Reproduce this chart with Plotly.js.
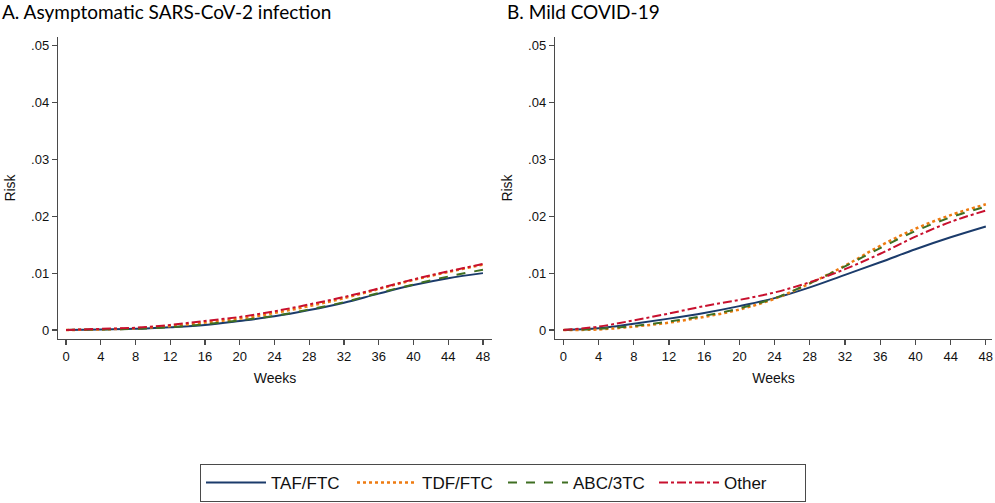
<!DOCTYPE html>
<html>
<head>
<meta charset="utf-8">
<script src="https://cdn.plot.ly/plotly-3.0.1.min.js"></script>
<style>html,body{margin:0;padding:0;background:#fff}#chart{width:995px;height:503px}</style>
</head>
<body>
<div id="chart"></div>
<script>
const weeks = [0, 4, 8, 12, 16, 20, 24, 28, 32, 36, 40, 44, 48];
const seriesNames = ["TAF/FTC", "TDF/FTC", "ABC/3TC", "Other"];

// Panel A: Asymptomatic SARS-CoV-2 infection
const asymTAF   = [0, 0.0001, 0.0002, 0.0005, 0.0009, 0.0016, 0.0024, 0.0035, 0.0048, 0.0064, 0.0079, 0.0091, 0.0100];
const asymTDF   = [0, 0.0001, 0.0003, 0.0007, 0.0013, 0.0020, 0.0030, 0.0042, 0.0056, 0.0072, 0.0088, 0.0102, 0.0115];
const asymABC   = [0, 0.0001, 0.0002, 0.0005, 0.0010, 0.0017, 0.0025, 0.0036, 0.0049, 0.0065, 0.0080, 0.0094, 0.0106];
const asymOther = [0, 0.0002, 0.0004, 0.0009, 0.0016, 0.0023, 0.0033, 0.0045, 0.0058, 0.0073, 0.0089, 0.0103, 0.0116];

// Panel B: Mild COVID-19
const mildTAF   = [0, 0.0003, 0.0011, 0.0020, 0.0030, 0.0042, 0.0056, 0.0075, 0.0097, 0.0119, 0.0142, 0.0163, 0.0182];
const mildTDF   = [0, 0.0001, 0.0006, 0.0013, 0.0023, 0.0036, 0.0055, 0.0082, 0.0113, 0.0148, 0.0178, 0.0202, 0.0221];
const mildABC   = [0, 0.0002, 0.0007, 0.0015, 0.0025, 0.0038, 0.0056, 0.0082, 0.0112, 0.0144, 0.0174, 0.0198, 0.0217];
const mildOther = [0, 0.0006, 0.0017, 0.0029, 0.0042, 0.0053, 0.0066, 0.0084, 0.0107, 0.0134, 0.0164, 0.0190, 0.0210];

const yTickVals = [0, 0.01, 0.02, 0.03, 0.04, 0.05];
const yTickText = ["0", ".01", ".02", ".03", ".04", ".05"];
const xTickVals = [0, 4, 8, 12, 16, 20, 24, 28, 32, 36, 40, 44, 48];

const styles = [
  {color: "#1b3b6b", dash: "solid", width: 2},
  {color: "#ee7b10", dash: "dot", width: 2.5},
  {color: "#3f6f22", dash: "dash", width: 2},
  {color: "#c8102e", dash: "dashdot", width: 2}
];

const panelA = [asymTAF, asymTDF, asymABC, asymOther];
const panelB = [mildTAF, mildTDF, mildABC, mildOther];

const traces = [];
panelA.forEach((ys, i) => traces.push({
  x: weeks, y: ys, type: "scatter", mode: "lines", name: seriesNames[i],
  xaxis: "x", yaxis: "y", legendgroup: seriesNames[i], showlegend: true,
  line: {color: styles[i].color, dash: styles[i].dash, width: styles[i].width, shape: "spline"}
}));
panelB.forEach((ys, i) => traces.push({
  x: weeks, y: ys, type: "scatter", mode: "lines", name: seriesNames[i],
  xaxis: "x2", yaxis: "y2", legendgroup: seriesNames[i], showlegend: false,
  line: {color: styles[i].color, dash: styles[i].dash, width: styles[i].width, shape: "spline"}
}));

const tickFont = {family: "Liberation Sans, Arial, sans-serif", size: 13, color: "#111"};
const axisCommon = {
  showline: true, linecolor: "#4a4a4a", linewidth: 1.2,
  ticks: "outside", ticklen: 5, tickcolor: "#4a4a4a", tickwidth: 1.2,
  showgrid: false, zeroline: false, tickfont: tickFont, fixedrange: true
};
const yDomain = [(503 - 339) / 503, (503 - 37) / 503];

const layout = {
  width: 995, height: 503,
  margin: {l: 0, r: 0, t: 0, b: 0},
  paper_bgcolor: "#fff", plot_bgcolor: "#fff",
  font: {family: "Liberation Sans, Arial, sans-serif", color: "#111"},
  xaxis: Object.assign({}, axisCommon, {
    domain: [58 / 995, 492 / 995], range: [-0.92, 49.04], anchor: "y",
    tickvals: xTickVals, ticktext: xTickVals.map(String),
    title: {text: "Weeks", font: {size: 14, family: "Liberation Sans, Arial, sans-serif"}, standoff: 10}
  }),
  yaxis: Object.assign({}, axisCommon, {
    domain: yDomain, range: [-0.00158, 0.0515], anchor: "x",
    tickvals: yTickVals, ticktext: yTickText,
    title: {text: "Risk", font: {size: 14, family: "Liberation Sans, Arial, sans-serif"}, standoff: 12}
  }),
  xaxis2: Object.assign({}, axisCommon, {
    domain: [555 / 995, 992 / 995], range: [-0.95, 48.7], anchor: "y2",
    tickvals: xTickVals, ticktext: xTickVals.map(String),
    title: {text: "Weeks", font: {size: 14, family: "Liberation Sans, Arial, sans-serif"}, standoff: 10}
  }),
  yaxis2: Object.assign({}, axisCommon, {
    domain: yDomain, range: [-0.00158, 0.0515], anchor: "x2",
    tickvals: yTickVals, ticktext: yTickText,
    title: {text: "Risk", font: {size: 14, family: "Liberation Sans, Arial, sans-serif"}, standoff: 12}
  }),
  annotations: [
    {text: "A. Asymptomatic SARS-CoV-2 infection", xref: "paper", yref: "paper",
     x: 0, y: 1, xanchor: "left", yanchor: "top", showarrow: false, yshift: 2,
     font: {family: "Lato, sans-serif", size: 19, color: "#000"}},
    {text: "B. Mild COVID-19", xref: "paper", yref: "paper",
     x: 505 / 995, y: 1, xanchor: "left", yanchor: "top", showarrow: false, yshift: 2,
     font: {family: "Lato, sans-serif", size: 19, color: "#000"}}
  ],
  legend: {
    orientation: "h", x: 503 / 995, xanchor: "center", y: 1 / 503, yanchor: "bottom",
    bordercolor: "#4a4a4a", borderwidth: 1, bgcolor: "#fff",
    font: {family: "Liberation Sans, Arial, sans-serif", size: 17, color: "#111"},
    itemwidth: 60, entrywidth: 76, entrywidthmode: "pixels", traceorder: "normal"
  },
  showlegend: true
};

Plotly.newPlot("chart", traces, layout, {displayModeBar: false, staticPlot: true});
</script>
</body>
</html>
